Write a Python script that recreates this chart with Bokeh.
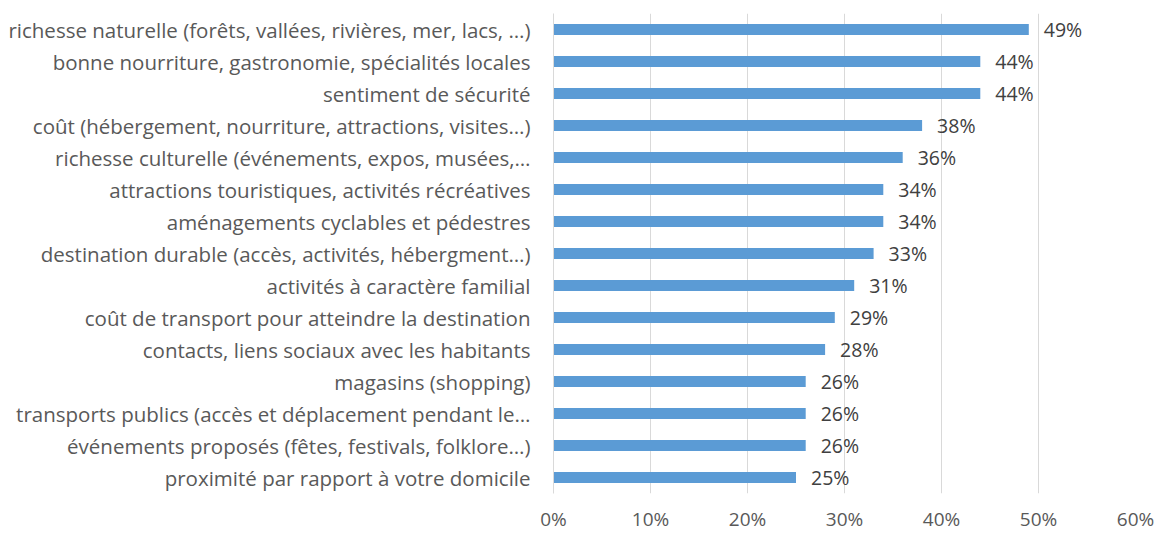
from bokeh.plotting import figure
from bokeh.models import ColumnDataSource, FactorRange, FixedTicker, PrintfTickFormatter, Range1d
from bokeh.core.properties import value
from bokeh.embed import file_html
from bokeh.resources import INLINE

categories = [
    "richesse naturelle (forêts, vallées, rivières, mer, lacs, …)",
    "bonne nourriture, gastronomie, spécialités locales",
    "sentiment de sécurité",
    "coût (hébergement, nourriture, attractions, visites…)",
    "richesse culturelle (événements, expos, musées,…",
    "attractions touristiques, activités récréatives",
    "aménagements cyclables et pédestres",
    "destination durable (accès, activités, hébergment…)",
    "activités à caractère familial",
    "coût de transport pour atteindre la destination",
    "contacts, liens sociaux avec les habitants",
    "magasins (shopping)",
    "transports publics (accès et déplacement pendant le…",
    "événements proposés (fêtes, festivals, folklore…)",
    "proximité par rapport à votre domicile",
]
values = [49, 44, 44, 38, 36, 34, 34, 33, 31, 29, 28, 26, 26, 26, 25]
tick_values = [0, 10, 20, 30, 40, 50, 60]

FONT = "Open Sans"
AXIS_COL = "#595959"
GRID_COL = "#D9D9D9"
BAR_COL = "#5B9BD5"

src = ColumnDataSource(dict(cat=categories, val=values, lab=[f"{v}%" for v in values]))

p = figure(
    width=1158, height=534,
    y_range=FactorRange(factors=list(reversed(categories)), range_padding=0),
    x_range=Range1d(0, 60),
    output_backend="svg", toolbar_location=None,
    min_border_left=553, min_border_right=23, min_border_top=13, min_border_bottom=39,
)
p.outline_line_color = None
p.background_fill_color = "white"

p.hbar(y="cat", right="val", left=0, height=0.34, source=src,
       fill_color=BAR_COL, line_color=None)
p.text(x="val", y="cat", text="lab", source=src, x_offset=15,
       text_baseline="middle", text_align="left",
       text_font=value(FONT), text_font_size="19.5px", text_color="#404040")

# x axis
p.xaxis.ticker = FixedTicker(ticks=tick_values)
p.xaxis.formatter = PrintfTickFormatter(format="%d%%")
p.xaxis.axis_line_color = None
p.xaxis.major_tick_line_color = None
p.xaxis.minor_tick_line_color = None
p.xaxis.major_tick_out = 0
p.xaxis.major_tick_in = 0
p.xaxis.major_label_standoff = 12
p.xaxis.major_label_text_font = FONT
p.xaxis.major_label_text_font_size = "19px"
p.xaxis.major_label_text_color = AXIS_COL

# y axis
p.yaxis.axis_line_color = GRID_COL
p.yaxis.axis_line_width = 1
p.yaxis.major_tick_line_color = None
p.yaxis.minor_tick_line_color = None
p.yaxis.major_tick_out = 0
p.yaxis.major_tick_in = 0
p.yaxis.major_label_standoff = 23
p.yaxis.major_label_text_font = FONT
p.yaxis.major_label_text_font_size = "20.5px"
p.yaxis.major_label_text_color = AXIS_COL

p.xgrid.grid_line_color = GRID_COL
p.xgrid.grid_line_width = 1
p.ygrid.grid_line_color = None

open("out.html", "w").write(file_html(p, INLINE))
